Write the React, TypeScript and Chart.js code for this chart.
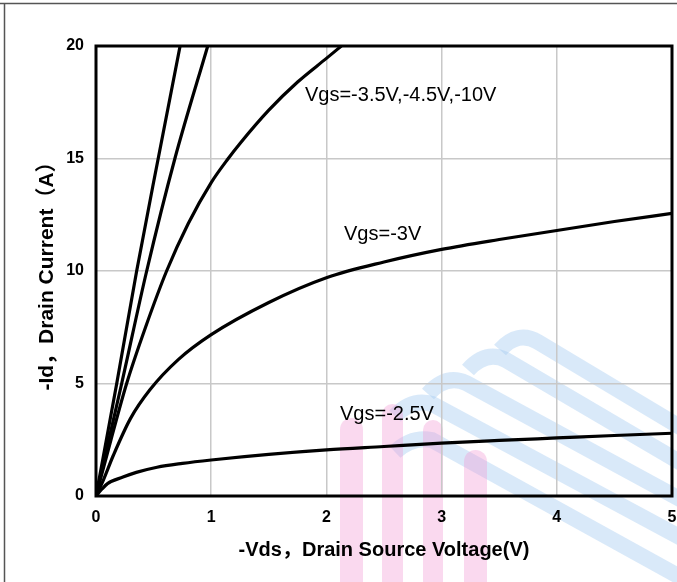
import React, { useEffect, useRef } from "react";
import { Chart, registerables } from "chart.js";

Chart.register(...registerables);

// ---- data ----
const vdsTicks = [0, 1, 2, 3, 4, 5];
const idTicks = [0, 5, 10, 15, 20];

const vdsVgs10 = [0, 0.18, 0.353, 0.54, 0.73];
const idVgs10 = [0, 5, 10, 15, 20];

const vdsVgs45 = [0, 0.223, 0.44, 0.685, 0.97];
const idVgs45 = [0, 5, 10, 15, 20];

const vdsVgs35 = [0, 0.13, 0.266, 0.43, 0.613, 0.8, 1.0, 1.148, 1.25, 1.5, 1.75, 2.0, 2.13];
const idVgs35 = [0, 2.5, 5, 7.5, 10, 12.1, 13.93, 15, 15.67, 17.15, 18.4, 19.45, 20];

const vdsVgs3 = [0, 0.064, 0.15, 0.3, 0.468, 0.714, 1.0, 1.5, 2.0, 2.5, 3.0, 3.5, 4.0, 4.5, 5.0];
const idVgs3 = [0, 0.71, 1.8, 3.45, 4.72, 6.06, 7.17, 8.6, 9.7, 10.4, 10.96, 11.4, 11.8, 12.2, 12.56];

const vdsVgs25 = [0, 0.05, 0.1, 0.234, 0.35, 0.53, 0.75, 1.0, 1.5, 2.0, 2.5, 3.0, 3.5, 4.0, 4.5, 5.0];
const idVgs25 = [0, 0.3, 0.55, 0.84, 1.05, 1.28, 1.45, 1.6, 1.85, 2.05, 2.2, 2.35, 2.47, 2.58, 2.69, 2.79];

const noteTexts = ["Vgs=-3.5V,-4.5V,-10V", "Vgs=-3V", "Vgs=-2.5V"];
const noteVds = [1.814, 2.153, 2.118];
const noteId = [17.57, 11.38, 3.38];

const xTitle = "-Vds\uFF0CDrain Source Voltage(V)";
const yTitle = "-Id\uFF0CDrain Current\uFF08A\uFF09";

const FONT = '"Liberation Sans", Arial, "Noto Sans CJK SC", sans-serif';

function toPoints(xs: number[], ys: number[]) {
  return xs.map((x, i) => ({ x, y: ys[i] }));
}

const watermarkPlugin = {
  id: "watermark",
  beforeDraw(chart: any) {
    const ctx = chart.ctx;
    ctx.save();
    ctx.strokeStyle = "rgba(165,203,240,0.42)";
    ctx.lineWidth = 16;
    ctx.lineCap = "butt";
    const bands = [
      [500, 350, 518, 330, 538, 342, 700, 439],
      [468, 370, 486, 350, 506, 360, 700, 474],
      [428, 394, 446, 374, 466, 383, 700, 510],
      [395, 416, 412, 398, 432, 404, 700, 548],
      [395, 452, 412, 436, 432, 440, 700, 588],
    ];
    for (const b of bands) {
      ctx.beginPath();
      ctx.moveTo(b[0], b[1]);
      ctx.quadraticCurveTo(b[2], b[3], b[4], b[5]);
      ctx.lineTo(b[6], b[7]);
      ctx.stroke();
    }
    ctx.fillStyle = "rgba(242,150,212,0.36)";
    const bars = [
      [340, 363, 418],
      [382, 403, 404],
      [423, 443, 420],
      [464, 487, 450],
    ];
    for (const b of bars) {
      const r = (b[1] - b[0]) / 2;
      ctx.beginPath();
      ctx.moveTo(b[0], 582);
      ctx.lineTo(b[0], b[2] + r);
      ctx.arc(b[0] + r, b[2] + r, r, Math.PI, 0);
      ctx.lineTo(b[1], 582);
      ctx.closePath();
      ctx.fill();
    }
    ctx.restore();
  },
};

const framePlugin = {
  id: "frame",
  afterDatasetsDraw(chart: any) {
    const { ctx, chartArea, scales } = chart;
    ctx.save();
    ctx.strokeStyle = "#000";
    ctx.lineWidth = 3;
    ctx.strokeRect(
      chartArea.left,
      chartArea.top,
      chartArea.right - chartArea.left,
      chartArea.bottom - chartArea.top
    );
    ctx.fillStyle = "#000";
    ctx.font = `20px ${FONT}`;
    ctx.textBaseline = "alphabetic";
    ctx.textAlign = "left";
    noteTexts.forEach((t, i) => {
      ctx.fillText(t, scales.x.getPixelForValue(noteVds[i]), scales.y.getPixelForValue(noteId[i]));
    });
    ctx.restore();
  },
  afterDraw(chart: any) {
    const ctx = chart.ctx;
    ctx.save();
    ctx.strokeStyle = "#555";
    ctx.lineWidth = 1.5;
    ctx.beginPath();
    ctx.moveTo(0, 3.5);
    ctx.lineTo(chart.width, 3.5);
    ctx.moveTo(4.5, 3.5);
    ctx.lineTo(4.5, chart.height);
    ctx.stroke();
    ctx.restore();
  },
};

export default function App() {
  const canvasRef = useRef<HTMLCanvasElement | null>(null);

  useEffect(() => {
    if (!canvasRef.current) return;
    const line = (xs: number[], ys: number[], label: string) => ({
      label,
      data: toPoints(xs, ys),
      showLine: true,
      borderColor: "#000",
      backgroundColor: "#000",
      borderWidth: 3.2,
      pointRadius: 0,
      cubicInterpolationMode: "monotone" as const,
      fill: false,
    });
    const chart = new Chart(canvasRef.current, {
      type: "scatter",
      data: {
        datasets: [
          line(vdsVgs10, idVgs10, "Vgs=-10V"),
          line(vdsVgs45, idVgs45, "Vgs=-4.5V"),
          line(vdsVgs35, idVgs35, "Vgs=-3.5V"),
          line(vdsVgs3, idVgs3, "Vgs=-3V"),
          line(vdsVgs25, idVgs25, "Vgs=-2.5V"),
        ],
      },
      options: {
        animation: false,
        responsive: false,
        devicePixelRatio: 1,
        layout: { padding: { left: 35, top: 46, right: 5, bottom: 20 } },
        plugins: {
          legend: { display: false },
          tooltip: { enabled: false },
        },
        scales: {
          x: {
            type: "linear",
            min: 0,
            max: 5,
            afterBuildTicks: (s: any) => {
              s.ticks = vdsTicks.map((v) => ({ value: v }));
            },
            afterFit: (s: any) => {
              s.height = 66;
              s.paddingLeft = 0;
              s.paddingRight = 0;
            },
            ticks: {
              autoSkip: false,
              maxRotation: 0,
              padding: 12,
              color: "#000",
              font: { family: FONT, size: 16, weight: "bold" },
            },
            grid: { color: "#c8c8c8", lineWidth: 1.5, drawTicks: false },
            border: { display: false },
            title: {
              display: true,
              text: xTitle,
              color: "#000",
              padding: 0,
              font: { family: FONT, size: 20, weight: "bold" },
            },
          },
          y: {
            type: "linear",
            min: 0,
            max: 20,
            afterBuildTicks: (s: any) => {
              s.ticks = idTicks.map((v) => ({ value: v }));
            },
            afterFit: (s: any) => {
              s.width = 61;
              s.paddingTop = 0;
              s.paddingBottom = 0;
            },
            ticks: {
              padding: 12,
              color: "#000",
              font: { family: FONT, size: 16, weight: "bold" },
            },
            grid: { color: "#c8c8c8", lineWidth: 1.5, drawTicks: false },
            border: { display: false },
            title: {
              display: true,
              text: yTitle,
              color: "#000",
              padding: 0,
              font: { family: FONT, size: 21, weight: "bold" },
            },
          },
        },
      },
      plugins: [watermarkPlugin, framePlugin],
    });
    return () => chart.destroy();
  }, []);

  return (
    <div
      style={{
        position: "fixed",
        left: 0,
        top: 0,
        width: 677,
        height: 582,
        background: "#fff",
        overflow: "hidden",
      }}
    >
      <canvas ref={canvasRef} width={677} height={582} style={{ display: "block", width: 677, height: 582 }} />
    </div>
  );
}
